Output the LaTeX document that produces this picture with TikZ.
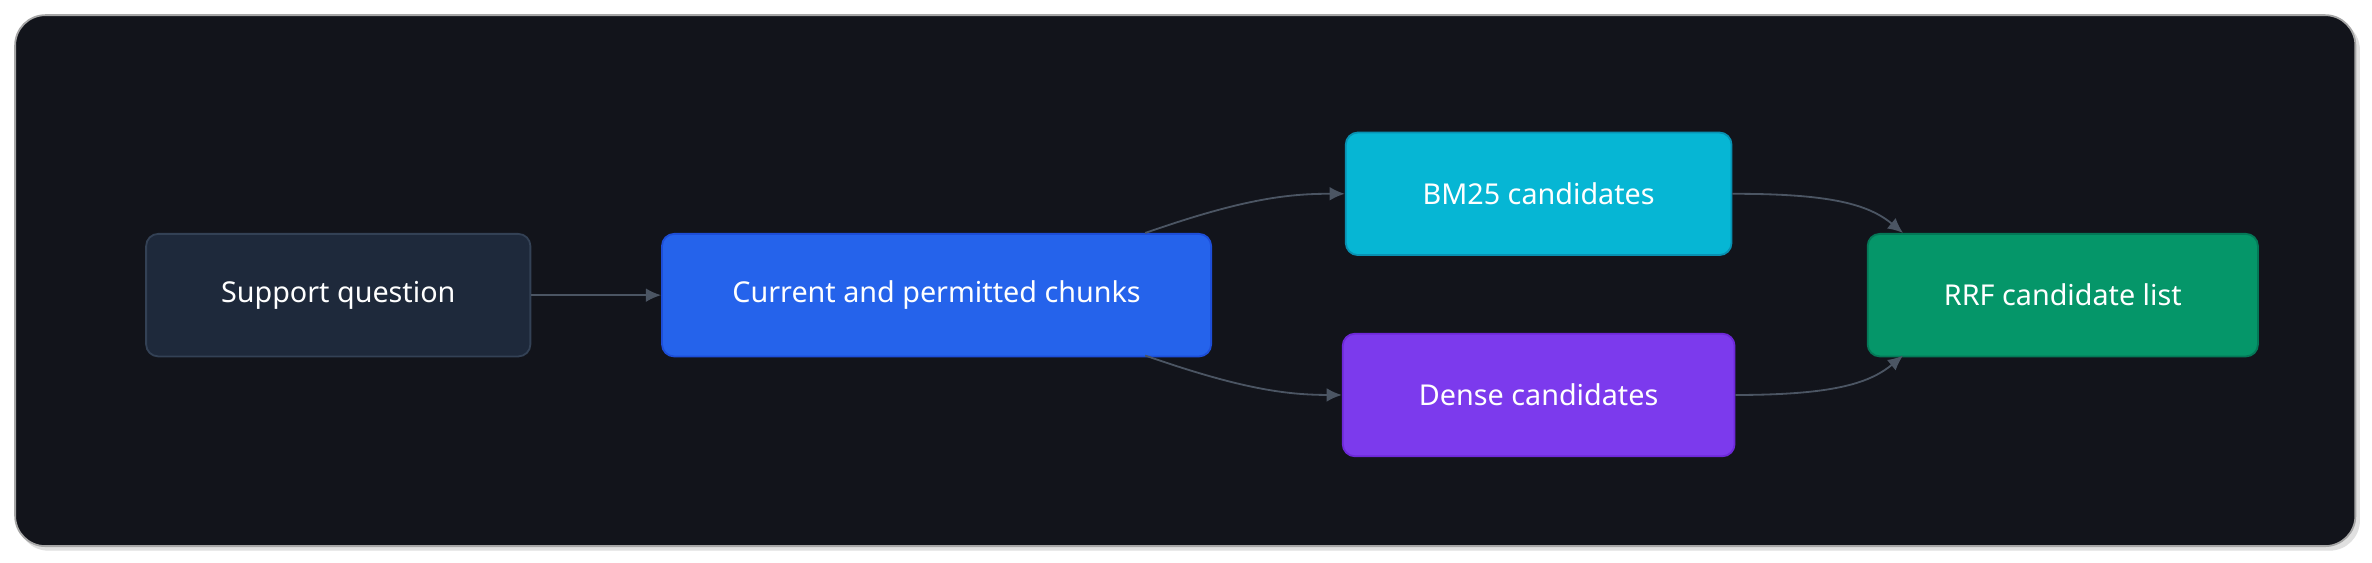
\documentclass[tikz,border=0pt]{standalone}
\usepackage{fontspec}
\setmainfont{Noto Sans}
\usetikzlibrary{arrows.meta}
\definecolor{bg}{HTML}{12141B}
\definecolor{edge}{HTML}{4B5563}
\definecolor{sqf}{HTML}{1E293B}\definecolor{sqd}{HTML}{334155}
\definecolor{ccf}{HTML}{2563EB}\definecolor{ccd}{HTML}{1D4ED8}
\definecolor{bmf}{HTML}{06B6D4}\definecolor{bmd}{HTML}{0891B2}
\definecolor{dnf}{HTML}{7C3AED}\definecolor{dnd}{HTML}{6D28D9}
\definecolor{rrf}{HTML}{059669}\definecolor{rrd}{HTML}{047857}
\begin{document}
\begin{tikzpicture}[x=0.5pt,y=-0.5pt,
  box/.style={draw, line width=0.6pt, rounded corners=4pt, text=white, font=\fontsize{9.5}{11}\selectfont, anchor=north west, inner sep=0pt},
  conn/.style={draw=edge, line width=0.6pt, -{Latex[length=5pt,width=4.5pt]}}]
\useasboundingbox (0,0) rectangle (1568,372);
\fill[white] (0,0) rectangle (1568,372);
\fill[black!12, rounded corners=10pt] (12,13) rectangle (1560,364);
\draw[fill=bg, draw=black!35, rounded corners=10pt, line width=0.6pt] (10,10) rectangle (1557,361);
\node[box, fill=sqf, draw=sqd, minimum width=127pt, minimum height=40.5pt] (sq) at (96,154) {Support question};
\node[box, fill=ccf, draw=ccd, minimum width=181.5pt, minimum height=40.5pt] (cc) at (437,154) {Current and permitted chunks};
\node[box, fill=bmf, draw=bmd, minimum width=127.5pt, minimum height=40.5pt] (bm) at (889,87) {BM25 candidates};
\node[box, fill=dnf, draw=dnd, minimum width=129.5pt, minimum height=40.5pt] (dn) at (887,220) {Dense candidates};
\node[box, fill=rrf, draw=rrd, minimum width=129pt, minimum height=40.5pt] (rr) at (1234,154) {RRF candidate list};
\coordinate (c1) at (757,154);
\coordinate (c2) at (757,235);
\coordinate (r1) at (1258,154);
\coordinate (r2) at (1258,235);
\draw[conn] (sq) -- (cc);
\draw[conn] (c1) .. controls (820,132) and (850,128) .. (bm.west);
\draw[conn] (c2) .. controls (820,257) and (850,261) .. (dn.west);
\draw[conn] (bm.east) .. controls (1210,128) and (1235,135) .. (r1);
\draw[conn] (dn.east) .. controls (1210,261) and (1235,254) .. (r2);
\end{tikzpicture}
\end{document}
